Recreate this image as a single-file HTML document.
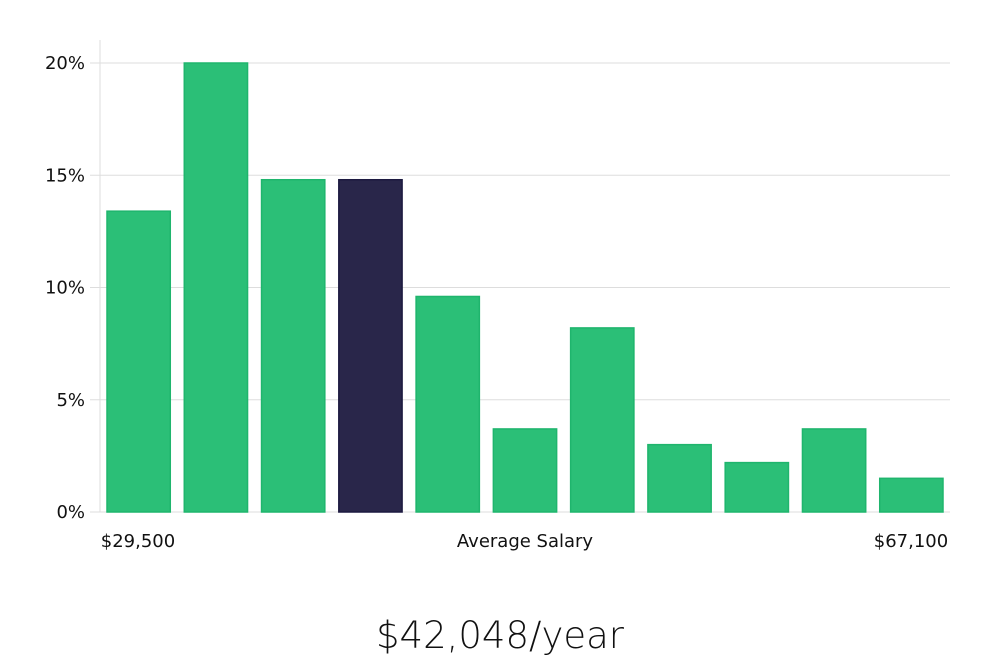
<!DOCTYPE html>
<html><head><meta charset="utf-8">
<style>
body{margin:0;background:#fff;width:1000px;height:660px;overflow:hidden;font-family:"Liberation Sans","DejaVu Sans",sans-serif;}
</style></head>
<body>
<svg width="1000" height="660" viewBox="0 0 1000 660">
<g id="grid"></g>
<g id="bars"></g>
<g id="labels"></g>
<text x="138" y="547" font-size="18" fill="#111" text-anchor="middle" font-family="DejaVu Sans, sans-serif">$29,500</text>
<text x="525" y="547" font-size="18" fill="#111" text-anchor="middle" font-family="DejaVu Sans, sans-serif">Average Salary</text>
<text x="911" y="547" font-size="18" fill="#111" text-anchor="middle" font-family="DejaVu Sans, sans-serif">$67,100</text>
<text x="500" y="648" font-size="37" fill="#111" text-anchor="middle" font-family="DejaVu Sans, sans-serif" font-weight="300">$42,048/year</text>
</svg>
<script>
const categories = ["b1","b2","b3","b4","b5","b6","b7","b8","b9","b10","b11"];
const values = [13.4,20.0,14.8,14.8,9.6,3.7,8.2,3.0,2.2,3.7,1.5];
const highlightIndex = 3;
const ticks = [0,5,10,15,20];
const tickLabels = ["0%","5%","10%","15%","20%"];
const NS="http://www.w3.org/2000/svg";
const x0=100,x1=950,yBase=512,yTop=63,maxV=20;
function y(v){return yBase-(v/maxV)*(yBase-yTop);}
const slot=(x1-x0)/categories.length;
function bx(i){return x0+i*slot+7;}
const grid=document.getElementById('grid');
const axis=document.createElementNS(NS,'line');
axis.setAttribute('x1',x0);axis.setAttribute('x2',x0);axis.setAttribute('y1',40);axis.setAttribute('y2',yBase);
axis.setAttribute('stroke','#ddd');


grid.appendChild(axis);
ticks.forEach((t,i)=>{
  const l=document.createElementNS(NS,'line');
  l.setAttribute('x1',x0-10);l.setAttribute('x2',x1);l.setAttribute('y1',y(t));l.setAttribute('y2',y(t));
  l.setAttribute('stroke','#ddd');
  
  
  grid.appendChild(l);
  const tx=document.createElementNS(NS,'text');
  tx.setAttribute('x',85);tx.setAttribute('y',y(t)+6);tx.setAttribute('text-anchor','end');
  tx.setAttribute('font-size','18');tx.setAttribute('fill','#111');tx.setAttribute('font-family','DejaVu Sans, sans-serif');
  tx.textContent=tickLabels[i];
  
  
  grid.appendChild(tx);
});
const bars=document.getElementById('bars');
values.forEach((v,i)=>{
  const r=document.createElementNS(NS,'rect');
  const hi=i===highlightIndex;
  r.setAttribute('x',bx(i));r.setAttribute('width',slot-14);
  r.setAttribute('y',y(v));r.setAttribute('height',yBase-y(v));
  r.setAttribute('fill',hi?'#29264a':'#2bbf77');
  r.setAttribute('stroke',hi?'#1c1940':'#1fb56d');
  r.setAttribute('stroke-width','1.5');
  
  
  bars.appendChild(r);
});
</script>
</body></html>
